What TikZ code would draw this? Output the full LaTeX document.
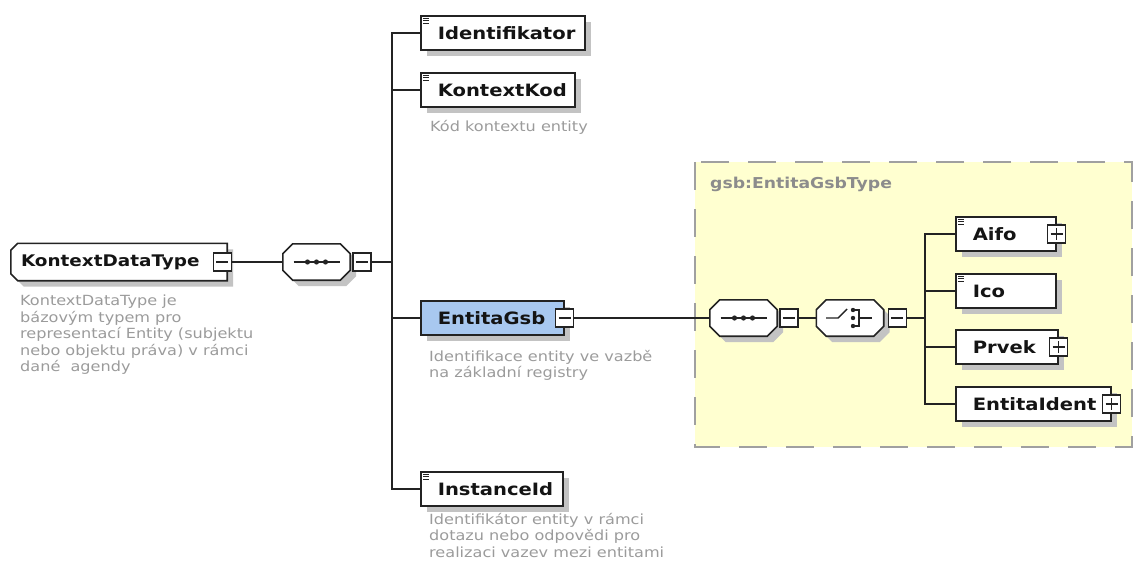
\documentclass[tikz,border=0pt]{standalone}
\usepackage{fontspec}
\setmainfont{DejaVu Sans}[FakeStretch=1.15]
\usetikzlibrary{positioning,shadows,backgrounds}

\definecolor{linegray}{RGB}{35,35,35}
\definecolor{textblack}{RGB}{20,20,20}
\definecolor{descgray}{RGB}{155,155,155}
\definecolor{titlegray}{RGB}{140,140,140}
\definecolor{shadegray}{RGB}{195,195,195}
\definecolor{gsbyellow}{RGB}{255,255,208}
\definecolor{gsbdash}{RGB}{160,160,160}
\definecolor{entityblue}{RGB}{168,200,240}

\tikzset{
  shade box/.style={drop shadow={shadow xshift=6pt, shadow yshift=-6pt, fill=shadegray, opacity=1}},
  outline/.style={draw=linegray, line width=1.6pt, fill=white, shade box},
  elem/.style={outline, rectangle, anchor=west, minimum height=34pt, inner ysep=0pt,
    inner xsep=17pt, text width=#1, align=left, text=textblack,
    font=\bfseries\fontsize{17}{19}\selectfont},
  elem/.default=100pt,
  typebox/.style={rectangle, minimum height=37pt, inner ysep=0pt, inner xsep=10pt,
    text width=196pt, align=left, text=textblack, font=\bfseries\fontsize{16}{18}\selectfont},
  compositor/.style={rectangle, minimum width=67pt, minimum height=36pt, inner sep=0pt},
  toggle/.style={draw=linegray, line width=1.3pt, fill=white, rectangle, minimum width=18pt,
    minimum height=18pt, inner sep=0pt},
  minus/.style={toggle, path picture={\draw[linegray, line width=1.3pt]
    ([xshift=3pt]path picture bounding box.west) -- ([xshift=-3pt]path picture bounding box.east);}},
  plus/.style={toggle, path picture={\draw[linegray, line width=1.3pt]
    ([xshift=3pt]path picture bounding box.west) -- ([xshift=-3pt]path picture bounding box.east)
    ([yshift=-3pt]path picture bounding box.north) -- ([yshift=3pt]path picture bounding box.south);}},
  conn/.style={draw=linegray, line width=1.6pt},
  desc/.style={anchor=north west, inner sep=0pt, align=left, text=descgray,
    font=\fontsize{14}{16.5}\selectfont},
}

\begin{document}
\begin{tikzpicture}[x=1pt, y=-1pt, node distance=2pt]
  \useasboundingbox (0,0) rectangle (1134,572);

  % gsb type area
  \begin{scope}[on background layer]
    \draw[gsbdash, line width=2.5pt, dash pattern=on 28pt off 19pt, fill=gsbyellow] (695,162) rectangle (1132,447);
  \end{scope}
  \node (gsb-title) [anchor=west, inner sep=0pt, text=titlegray, font=\bfseries\fontsize{15}{18}\selectfont] at (710,184) {gsb:EntitaGsbType};

  % KontextDataType and its sequence
  \node (kdt) [typebox] at (119,262) {KontextDataType};
  \node (kdt-desc) [desc] at (20,295) {KontextDataType je\\bázovým typem pro\\representací Entity (subjektu\\nebo objektu práva) v rámci\\dané\ \ agendy};
  \node (seq1) [compositor] at (316.5,262) {};
  \coordinate (bus1) at (392,262);

  \node (identifikator) [elem=130pt] at (420,33) {Identifikator};
  \node (kontextkod) [elem=120pt] at (420,90) {KontextKod};
  \node (kk-desc) [desc] at (430,120) {Kód kontextu entity};
  \node (entitagsb) [elem=109pt, fill=entityblue] at (420,318) {EntitaGsb};
  \node (gsb-desc) [desc] at (429,350) {Identifikace entity ve vazbě\\na základní registry};
  \node (instanceid) [elem=108pt] at (420,489) {InstanceId};
  \node (iid-desc) [desc] at (429,513) {Identifikátor entity v rámci\\dotazu nebo odpovědi pro\\realizaci vazev mezi entitami};

  % EntitaGsbType content
  \node (seq2) [compositor] at (743.5,318) {};
  \node (choice) [compositor] at (850,318) {};
  \coordinate (bus2) at (925,318);

  \node (aifo) [elem=66pt] at (955,234) {Aifo};
  \node (ico) [elem=66pt] at (955,291) {Ico};
  \node (prvek) [elem=68pt] at (955,347) {Prvek};
  \node (entitaident) [elem=121pt] at (955,404) {EntitaIdent};

  % outlines of the type box and the compositors
  \begin{scope}[on background layer]
    \draw[outline] ([xshift=7pt]kdt.north west) -- (kdt.north east) -- (kdt.south east)
      -- ([xshift=7pt]kdt.south west) -- ([yshift=7pt]kdt.south west)
      -- ([yshift=-7pt]kdt.north west) -- cycle;
    \foreach \c in {seq1,seq2,choice}
      \draw[outline] ([xshift=10pt]\c.north west) -- ([xshift=-10pt]\c.north east)
        -- ([yshift=-10pt]\c.north east) -- ([yshift=10pt]\c.south east)
        -- ([xshift=-10pt]\c.south east) -- ([xshift=10pt]\c.south west)
        -- ([yshift=10pt]\c.south west) -- ([yshift=-10pt]\c.north west) -- cycle;
  \end{scope}

  % toggles
  \node (kdt-m) [minus] at ([xshift=-5pt]kdt.east) {};
  \node (seq1-m) [minus, right=of seq1] {};
  \node (entitagsb-m) [minus] at (entitagsb.east) {};
  \node (seq2-m) [minus, right=of seq2] {};
  \node (choice-m) [minus, right=4pt of choice] {};
  \node (aifo-p) [plus] at (aifo.east) {};
  \node (prvek-p) [plus] at (prvek.east) {};
  \node (entitaident-p) [plus] at (entitaident.east) {};

  % connectors
  \draw[conn] (kdt-m) -- (seq1);
  \draw[conn] (seq1-m) -- (bus1);
  \foreach \n in {identifikator,kontextkod,entitagsb,instanceid}
    \draw[conn] (bus1) |- (\n.west);
  \draw[conn] (entitagsb-m) -- (seq2);
  \draw[conn] (seq2-m) -- (choice);
  \draw[conn] (choice-m) -- (bus2);
  \foreach \n in {aifo,ico,prvek,entitaident}
    \draw[conn] (bus2) |- (\n.west);

  % small icons
  \foreach \n in {identifikator,kontextkod,instanceid,aifo,ico}
    \foreach \dy in {3,5.5,8}
      \draw[linegray, line width=0.8pt] ([shift={(3,\dy)}]\n.north west) -- ++(6,0);
  \foreach \c in {seq1,seq2} {
    \draw[linegray, line width=1.4pt] ([xshift=-23pt]\c.center) -- ([xshift=23pt]\c.center);
    \foreach \dx in {-9,0,9}
      \fill[linegray] ([xshift=\dx pt]\c.center) circle (2.6pt);
  }
  \begin{scope}[shift={(choice.center)}, linegray, line width=1.4pt]
    \draw (-24,0) -- (-12,0) -- (-3,-9);
    \foreach \dy in {-8,0,8}
      \fill (3,\dy) circle (2.2pt);
    \draw (3,-8) -- (9,-8) -- (9,8) -- (3,8) (9,0) -- (22,0);
  \end{scope}
\end{tikzpicture}
\end{document}
